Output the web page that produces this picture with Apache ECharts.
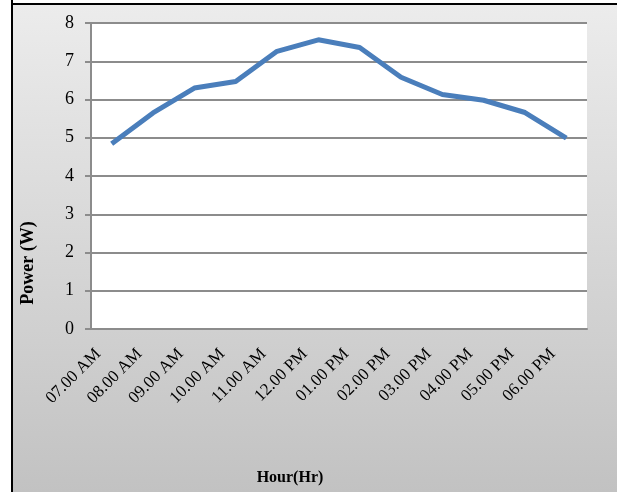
<!DOCTYPE html>
<html>
<head>
<meta charset="utf-8">
<script src="https://cdn.jsdelivr.net/npm/echarts@6/dist/echarts.min.js"></script>
<style>
html,body{margin:0;padding:0;background:#fff;}
#chart{width:617px;height:492px;}
</style>
</head>
<body>
<div id="chart"></div>
<script>
var categories = ['07.00 AM','08.00 AM','09.00 AM','10.00 AM','11.00 AM','12.00 PM','01.00 PM','02.00 PM','03.00 PM','04.00 PM','05.00 PM','06.00 PM'];
var powerValues = [4.84, 5.65, 6.30, 6.47, 7.26, 7.56, 7.36, 6.58, 6.13, 5.98, 5.66, 4.99];
var yTicks = [0, 1, 2, 3, 4, 5, 6, 7, 8];
var xTitle = 'Hour(Hr)';
var yTitle = 'Power (W)';

var chart = echarts.init(document.getElementById('chart'), null, {renderer: 'canvas'});
var serif = '"Liberation Serif", "DejaVu Serif", serif';
chart.setOption({
  backgroundColor: '#ffffff',
  animation: false,
  graphic: [
    {type: 'rect', z: -10, silent: true, shape: {x: 12, y: 4, width: 605, height: 488},
     style: {fill: {type: 'linear', x: 0, y: 0, x2: 0, y2: 1, global: false,
       colorStops: [{offset: 0, color: '#ececec'}, {offset: 1, color: '#c2c2c2'}]}}},
    {type: 'line', z: 10, silent: true, shape: {x1: 12, y1: 0, x2: 12, y2: 492}, style: {stroke: '#000', lineWidth: 2}},
    {type: 'line', z: 10, silent: true, shape: {x1: 11, y1: 4, x2: 617, y2: 4}, style: {stroke: '#000', lineWidth: 2}},
    {type: 'rect', z: -5, silent: true, shape: {x: 91, y: 23, width: 496, height: 306}, style: {fill: '#ffffff'}},
    {type: 'text', silent: true, x: 28, y: 263, rotation: Math.PI / 2,
     style: {text: yTitle, font: 'bold 18px ' + serif, fill: '#000', align: 'center', verticalAlign: 'middle'}},
    {type: 'text', silent: true, x: 290, y: 478,
     style: {text: xTitle, font: 'bold 16px ' + serif, fill: '#000', align: 'center', verticalAlign: 'middle'}}
  ],
  grid: {left: 91, right: 30, top: 23, bottom: 163, containLabel: false},
  xAxis: {
    type: 'category',
    data: categories,
    boundaryGap: true,
    axisLine: {show: true, lineStyle: {color: '#8c8c8c', width: 2}},
    axisTick: {show: false},
    axisLabel: {rotate: 45, interval: 0, margin: 9, padding: [0, 19, 0, 0], fontFamily: serif, fontSize: 17, color: '#000'},
    splitLine: {show: false}
  },
  yAxis: {
    type: 'value',
    min: yTicks[0],
    max: yTicks[yTicks.length - 1],
    interval: 1,
    axisLine: {show: true, lineStyle: {color: '#8c8c8c', width: 2}},
    axisTick: {show: true, length: 6, lineStyle: {color: '#8c8c8c', width: 2}},
    axisLabel: {margin: 17, fontFamily: serif, fontSize: 18, color: '#000'},
    splitLine: {show: true, lineStyle: {color: '#8c8c8c', width: 2}}
  },
  series: [{
    type: 'line',
    data: powerValues,
    showSymbol: false,
    symbol: 'none',
    lineStyle: {color: '#4a7ebb', width: 5},
    itemStyle: {color: '#4a7ebb'}
  }]
});
</script>
</body>
</html>
